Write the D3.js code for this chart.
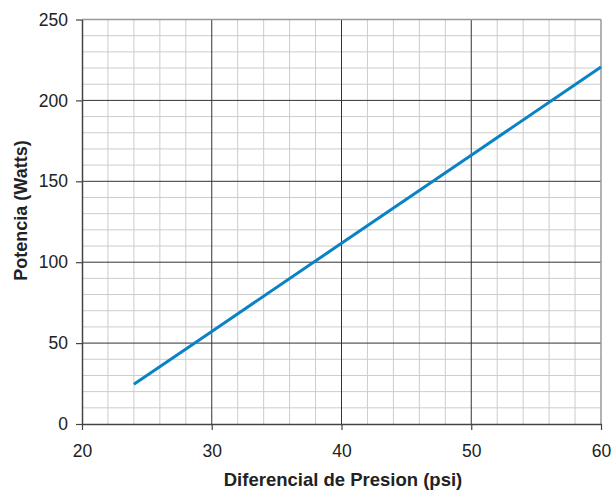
<!DOCTYPE html>
<html>
<head>
<meta charset="utf-8">
<script src="https://cdn.jsdelivr.net/npm/d3@7"></script>
<style>
  body { margin: 0; background: #fff; }
  text { font-family: "Liberation Sans", Arial, sans-serif; fill: #222; }
</style>
</head>
<body>
<div id="chart"></div>
<script>
// data
const pressure = [24, 30, 40, 50, 60];
const power = [24.5, 57.2, 111.7, 166.1, 220.6];
const xTicks = [20, 30, 40, 50, 60];
const yTicks = [0, 50, 100, 150, 200, 250];

const margin = { top: 19.5, right: 10, bottom: 66, left: 82 },
  width = 611 - margin.left - margin.right,
  height = 490 - margin.top - margin.bottom;

const svg = d3.select("#chart")
  .append("svg")
  .attr("width", 611)
  .attr("height", 490)
  .append("g")
  .attr("transform", `translate(${margin.left},${margin.top})`);

const x = d3.scaleLinear().domain([20, 60]).range([0, width]);
const y = d3.scaleLinear().domain([0, 250]).range([height, 0]);

// minor grid
svg.append("g")
  .selectAll("line")
  .data(d3.range(22, 60, 2).filter(v => v % 10 !== 0))
  .join("line")
  .attr("x1", d => x(d)).attr("x2", d => x(d))
  .attr("y1", 0).attr("y2", height)
  .attr("stroke", "#cccccc").attr("stroke-width", 1);

svg.append("g")
  .selectAll("line")
  .data(d3.range(10, 250, 10).filter(v => v % 50 !== 0))
  .join("line")
  .attr("x1", 0).attr("x2", width)
  .attr("y1", d => y(d)).attr("y2", d => y(d))
  .attr("stroke", "#cccccc").attr("stroke-width", 1);

// major grid
svg.append("g")
  .selectAll("line")
  .data(xTicks.slice(1, -1))
  .join("line")
  .attr("x1", d => x(d)).attr("x2", d => x(d))
  .attr("y1", 0).attr("y2", height)
  .attr("stroke", "#333").attr("stroke-width", 1);

svg.append("g")
  .selectAll("line")
  .data(yTicks.slice(1, -1))
  .join("line")
  .attr("x1", 0).attr("x2", width)
  .attr("y1", d => y(d)).attr("y2", d => y(d))
  .attr("stroke", "#333").attr("stroke-width", 1);

// frame top/right
svg.append("line")
  .attr("x1", 0).attr("x2", width).attr("y1", 0).attr("y2", 0)
  .attr("stroke", "#999").attr("stroke-width", 1.5);
svg.append("line")
  .attr("x1", width).attr("x2", width).attr("y1", 0).attr("y2", height)
  .attr("stroke", "#999").attr("stroke-width", 1.5);

// axes
const xAxis = svg.append("g")
  .attr("transform", `translate(0,${height})`)
  .call(d3.axisBottom(x).tickValues(xTicks).tickSize(6).tickSizeOuter(0).tickPadding(14.5));

const yAxis = svg.append("g")
  .call(d3.axisLeft(y).tickValues(yTicks).tickSize(6).tickSizeOuter(0).tickPadding(8));

[xAxis, yAxis].forEach(a => {
  a.select(".domain").attr("stroke", "#444").attr("stroke-width", 1.5);
  a.selectAll(".tick line").attr("stroke", "#444").attr("stroke-width", 1.2);
  a.selectAll(".tick text")
    .attr("font-size", "17.5px")
    .attr("font-family", "Liberation Sans, Arial, sans-serif")
    .attr("fill", "#222");
});

// line
svg.append("path")
  .datum(pressure.map((p, i) => [p, power[i]]))
  .attr("fill", "none")
  .attr("stroke", "#0a82c6")
  .attr("stroke-width", 3)
  .attr("d", d3.line().x(d => x(d[0])).y(d => y(d[1])));

// axis titles
svg.append("text")
  .attr("x", 343 - margin.left)
  .attr("y", 485.5 - margin.top)
  .attr("text-anchor", "middle")
  .attr("font-size", "18.5px")
  .attr("font-weight", "bold")
  .text("Diferencial de Presion (psi)");

svg.append("text")
  .attr("transform", `translate(${-margin.left + 27},${210.5 - margin.top}) rotate(-90)`)
  .attr("text-anchor", "middle")
  .attr("font-size", "18px")
  .attr("font-weight", "bold")
  .text("Potencia (Watts)");
</script>
</body>
</html>
